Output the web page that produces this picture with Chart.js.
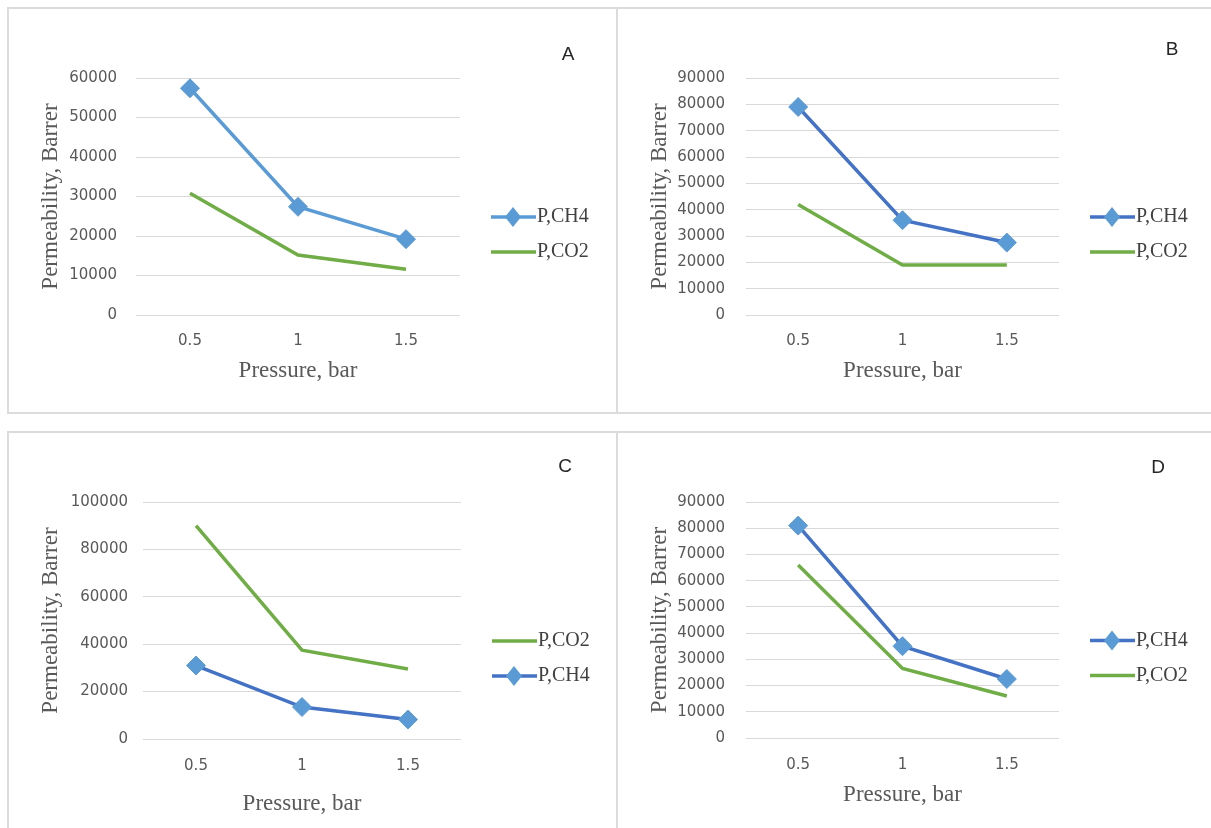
<!DOCTYPE html>
<html>
<head>
<meta charset="utf-8">
<script src="https://cdn.jsdelivr.net/npm/chart.js@4.4.1/dist/chart.umd.min.js"></script>
<style>
  body { margin: 0; background: #fff; width: 1211px; height: 828px; overflow: hidden; position: relative; }
  .frame { position: absolute; box-sizing: border-box; border: 2px solid #dcdcdc; }
  canvas { position: absolute; }
</style>
</head>
<body>
<div class="frame" style="left:7px;top:7px;width:611px;height:407px"></div>
<div class="frame" style="left:616px;top:7px;width:600px;height:407px"></div>
<div class="frame" style="left:7px;top:431px;width:611px;height:402px"></div>
<div class="frame" style="left:616px;top:431px;width:600px;height:402px"></div>

<canvas id="chartA" width="609" height="405" style="left:8px;top:8px"></canvas>
<canvas id="chartB" width="594" height="405" style="left:617px;top:8px"></canvas>
<canvas id="chartC" width="609" height="396" style="left:8px;top:432px"></canvas>
<canvas id="chartD" width="594" height="396" style="left:617px;top:432px"></canvas>

<script>
// x categories (pressure, bar)
const pressure = ['0.5', '1', '1.5'];

// permeability values, Barrer
const ch4A = [57400, 27400, 19200];
const co2A = [30800, 15200, 11600];

const ch4B = [79000, 36000, 27500];
const co2B = [42000, 19000, 19000];

const co2C = [90000, 37500, 29500];
const ch4C = [31000, 13500, 8200];

const ch4D = [81000, 35000, 22500];
const co2D = [66000, 26500, 16000];

// y axis ranges: [max, step]
const yAxisA = [60000, 10000];
const yAxisB = [90000, 10000];
const yAxisC = [100000, 20000];
const yAxisD = [90000, 10000];

const green = '#70AD47';
const lightBlue = '#5B9BD5';
const darkBlue = '#4472C4';

function ch4Set(values, lineColor) {
  return {
    label: 'P,CH4',
    data: values,
    borderColor: lineColor,
    borderWidth: 3.5,
    pointStyle: 'rectRot',
    pointRadius: 9.5,
    pointBackgroundColor: lightBlue,
    pointBorderColor: lightBlue,
    pointBorderWidth: 1,
    tension: 0
  };
}

function co2Set(values) {
  return {
    label: 'P,CO2',
    data: values,
    borderColor: green,
    borderWidth: 3.5,
    pointRadius: 0,
    tension: 0
  };
}

// legend with line + marker, drawn to the right of the plot, plus the panel letter
const sideLegend = {
  id: 'sideLegend',
  afterDraw(chart, args, opts) {
    const a = chart.chartArea;
    const ctx = chart.ctx;
    const sets = chart.data.datasets;
    const x0 = a.right + 31;
    let y = (a.top + a.bottom) / 2 + 38 - (sets.length - 1) * 35 / 2;
    ctx.save();
    sets.forEach(ds => {
      ctx.strokeStyle = ds.borderColor;
      ctx.lineWidth = 3.5;
      ctx.beginPath();
      ctx.moveTo(x0, y);
      ctx.lineTo(x0 + 45, y);
      ctx.stroke();
      if (ds.pointRadius) {
        const cx = x0 + 22;
        ctx.fillStyle = ds.pointBackgroundColor;
        ctx.beginPath();
        ctx.moveTo(cx, y - 10);
        ctx.lineTo(cx + 8, y);
        ctx.lineTo(cx, y + 10);
        ctx.lineTo(cx - 8, y);
        ctx.closePath();
        ctx.fill();
      }
      ctx.fillStyle = '#404040';
      ctx.font = '20px "Liberation Serif"';
      ctx.textAlign = 'left';
      ctx.textBaseline = 'middle';
      ctx.fillText(ds.label, x0 + 46, y);
      y += 35;
    });
    ctx.fillStyle = '#262626';
    ctx.font = '19px "Liberation Sans"';
    ctx.textAlign = 'center';
    ctx.textBaseline = 'alphabetic';
    ctx.fillText(opts.letter, opts.lx, opts.ly);
    ctx.restore();
  }
};

function makeChart(id, datasets, yAxis, box) {
  new Chart(document.getElementById(id), {
    type: 'line',
    data: { labels: pressure, datasets: datasets },
    plugins: [sideLegend],
    options: {
      responsive: false,
      animation: false,
      layout: { padding: { left: 0, top: box.top, right: box.right, bottom: box.bottom } },
      plugins: {
        legend: { display: false },
        tooltip: { enabled: false },
        sideLegend: { letter: box.letter, lx: box.lx, ly: box.ly }
      },
      scales: {
        x: {
          offset: true,
          grid: { display: false, drawTicks: false },
          border: { display: false },
          ticks: { color: '#595959', font: { family: 'DejaVu Sans', size: 15 }, padding: box.xPad },
          title: {
            display: true,
            text: 'Pressure, bar',
            color: '#595959',
            font: { family: 'Liberation Serif', size: 23 },
            padding: 0
          },
          afterFit: s => { s.height = box.xHeight; }
        },
        y: {
          min: 0,
          max: yAxis[0],
          grid: { color: '#d9d9d9', lineWidth: 1, drawTicks: false },
          border: { display: false },
          ticks: {
            stepSize: yAxis[1],
            color: '#595959',
            font: { family: 'DejaVu Sans', size: 15 },
            padding: box.yPad,
            callback: v => String(v)
          },
          title: {
            display: true,
            text: 'Permeability, Barrer',
            color: '#595959',
            font: { family: 'Liberation Serif', size: 23 },
            padding: { top: 29, bottom: 0 }
          },
          afterFit: s => { s.width = box.yWidth; }
        }
      }
    }
  });
}

makeChart('chartA', [ch4Set(ch4A, lightBlue), co2Set(co2A)], yAxisA,
  { top: 70, right: 157, bottom: 28, yWidth: 128, xHeight: 70, yPad: 19, xPad: 17, letter: 'A', lx: 560, ly: 52 });

makeChart('chartB', [ch4Set(ch4B, darkBlue), co2Set(co2B)], yAxisB,
  { top: 70, right: 152, bottom: 28, yWidth: 129, xHeight: 70, yPad: 21, xPad: 17, letter: 'B', lx: 555, ly: 47 });

makeChart('chartC', [co2Set(co2C), ch4Set(ch4C, darkBlue)], yAxisC,
  { top: 70, right: 156, bottom: 10, yWidth: 135, xHeight: 79, yPad: 15, xPad: 18, letter: 'C', lx: 557, ly: 40 });

makeChart('chartD', [ch4Set(ch4D, darkBlue), co2Set(co2D)], yAxisD,
  { top: 70, right: 152, bottom: 19, yWidth: 129, xHeight: 71, yPad: 21, xPad: 18, letter: 'D', lx: 541, ly: 41 });
</script>
</body>
</html>
